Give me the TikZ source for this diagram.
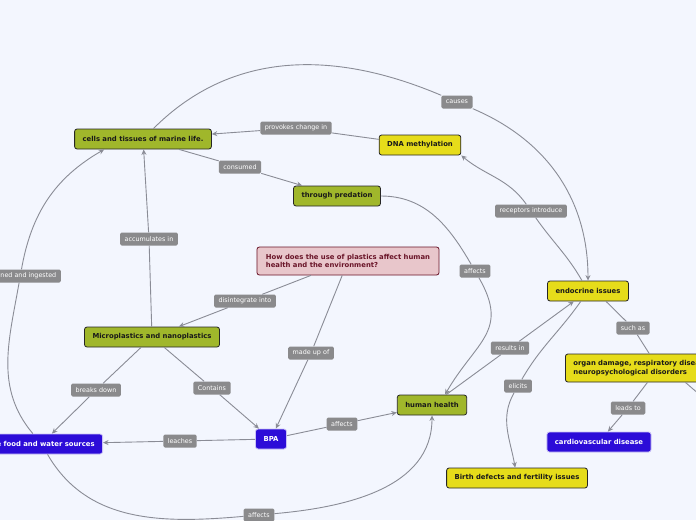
\documentclass[tikz,border=0pt]{standalone}
\usepackage{fontspec}
\setmainfont{DejaVu Sans}
\usetikzlibrary{arrows.meta}

\definecolor{bgcol}{RGB}{243,246,254}
\definecolor{leafgreen}{RGB}{160,183,43}
\definecolor{mustard}{RGB}{230,220,26}
\definecolor{deepblue}{RGB}{44,12,216}
\definecolor{rosefill}{RGB}{232,198,203}
\definecolor{wine}{RGB}{105,20,40}
\definecolor{tagfill}{RGB}{138,138,140}
\definecolor{wire}{RGB}{138,140,150}

\tikzset{
    box/.style={rounded corners=2.5pt, draw=black!85, line width=0.8pt, text=black!90,
        font=\fontsize{6.85}{8.5}\selectfont\bfseries, minimum height=20pt, inner xsep=8pt, inner ysep=0pt},
    greenbox/.style={box, fill=leafgreen},
    yellowbox/.style={box, fill=mustard},
    bluebox/.style={box, fill=deepblue, draw=white!75!deepblue, text=white},
    tag/.style={fill=tagfill, rounded corners=1.5pt, text=white, font=\fontsize{6.4}{7}\selectfont,
        inner xsep=4.5pt, inner ysep=0pt, minimum height=13pt},
    link/.style={draw=wire, line width=0.9pt},
    linkto/.style={link, -{Stealth[length=5.5pt, width=5pt]}},
}

\begin{document}
\begin{tikzpicture}[x=1pt, y=1pt]
                \useasboundingbox (0, 0) rectangle (696, -520);
                \clip (0, 0) rectangle (696, -520);
                \fill [bgcol] (0, 0) rectangle (696, -520);

                \node [greenbox] (cells) at (143, -139) {cells and tissues of marine life.};
                \node [yellowbox] (dna) at (420, -145) {DNA methylation};
                \node [greenbox] (pred) at (337, -196) {through predation};
                \node [box, fill=rosefill, draw=wine, text=wine, align=left, inner xsep=9pt, minimum height=28pt] (quest) at (348, -261)
                    {How does the use of plastics affect human\\health and the environment?};
                \node [greenbox] (micro) at (152, -337) {Microplastics and nanoplastics};
                \node [yellowbox] (endo) at (588, -291) {endocrine issues};
                \node [yellowbox, align=left, text width=170pt, minimum height=28pt, anchor=west] (organ) at (565, -368)
                    {organ damage, respiratory diseases and\\neuropsychological disorders};
                \node [greenbox] (health) at (432, -405) {human health};
                \node [bluebox] (bpa) at (271, -439) {BPA};
                \node [bluebox, anchor=east] (food) at (103, -444) {the food and water sources};
                \node [bluebox] (cardio) at (599, -442) {cardiovascular disease};
                \node [yellowbox] (birth) at (517, -478) {Birth defects and fertility issues};

                \node [tag] (lcause) at (457, -102) {causes};
                \node [tag] (lprov) at (296, -128) {provokes change in};
                \node [tag] (lcons) at (240, -167) {consumed};
                \node [tag] (lrec) at (531, -211) {receptors introduce};
                \node [tag] (laccum) at (149, -239) {accumulates in};
                \node [tag] (laff1) at (475, -271) {affects};
                \node [tag] (ldisint) at (245, -301) {disintegrate into};
                \node [tag, anchor=east] (lingest) at (61, -276) {obtained and ingested};
                \node [tag] (lsuch) at (633, -328) {such as};
                \node [tag] (lmade) at (311, -353) {made up of};
                \node [tag] (lres) at (510, -348) {results in};
                \node [tag] (lelic) at (518, -386) {elicits};
                \node [tag] (lbreak) at (96, -390) {breaks down};
                \node [tag] (lcont) at (212, -388) {Contains};
                \node [tag] (lleach) at (180, -441) {leaches};
                \node [tag] (laff2) at (342, -424) {affects};
                \node [tag] (llead) at (628, -408) {leads to};
                \node [tag] (laff3) at (259, -515) {affects};
                \coordinate (offright) at (722, -414);

                \draw [linkto] (dna) to (lprov) to (cells);
                \draw [linkto] (cells) to (lcons) to (pred);
                \draw [linkto] (micro) to (laccum) to (cells);
                \draw [linkto] (quest) to (ldisint) to (micro);
                \draw [linkto] (quest) to (lmade) to (bpa);
                \draw [linkto] (micro) to (lcont) to (bpa);
                \draw [linkto] (micro) to (lbreak) to [out=-135, in=45] (food);
                \draw [linkto] (bpa) to (lleach) to (food);
                \draw [linkto] (bpa) to (laff2) to (health);
                \draw [linkto] (pred.east) to [out=0, in=120] (laff1) to [out=-60, in=60, looseness=1.3] ([xshift=13pt]health.north);
                \draw [linkto] (health) to (lres) to (endo);
                \draw [linkto] (endo) to [out=-125, in=60] (lelic) to [out=-120, in=100] (birth);
                \draw [linkto] (cells) to [out=45, in=157] (lcause) to [out=-23, in=90] (endo);
                \draw [linkto] (endo) to [out=120, in=-55] (lrec) to [out=125, in=-40] (dna.south east);
                \draw [link] (endo.-30) to (lsuch) to (organ);
                \draw [linkto] (organ) to (llead) to (cardio);
                \draw [linkto] ([xshift=27pt]organ.south) to (offright);
                \draw [linkto] (food) to [out=130, in=-100] (lingest) to [out=80, in=210] ([xshift=30pt]cells.south west);
                \draw [linkto] (food) to [out=-60, in=185] (laff3) to [out=5, in=-90] (health);
\end{tikzpicture}
\end{document}
